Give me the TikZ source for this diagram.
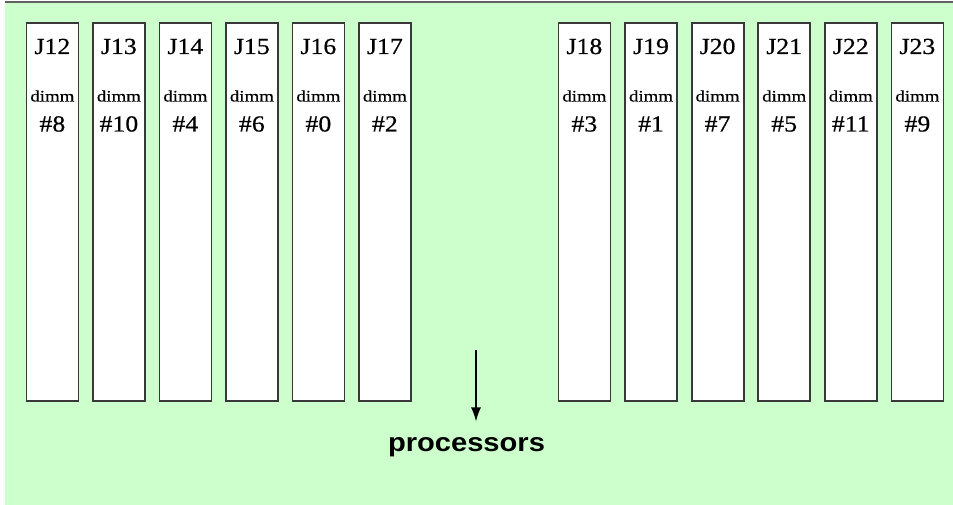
\documentclass[tikz,border=0pt]{standalone}
\usepackage{fontspec}
\usetikzlibrary{arrows.meta}
\newfontfamily\slotfont[FakeStretch=1.12,FakeBold=0.6]{Liberation Serif}
\newfontfamily\dimmfont[FakeStretch=1.18,FakeBold=0.3]{Liberation Serif}
\newfontfamily\procfont[FakeStretch=1.12]{Liberation Sans}
\definecolor{boardgreen}{HTML}{CCFFCC}
\definecolor{edgegray}{HTML}{383838}
\definecolor{rimgray}{HTML}{606060}
\begin{document}
\begin{tikzpicture}[x=1pt,y=-1pt,
  slot/.style={draw=edgegray, line width=1.8pt, fill=white, anchor=north west,
               minimum width=52pt, minimum height=377.5pt, inner sep=0pt},
  slotname/.style={font=\slotfont\fontsize{23}{23}\selectfont, anchor=base, inner sep=0pt},
  dimmtext/.style={font=\dimmfont\fontsize{16}{16}\selectfont, anchor=base, inner sep=0pt},
  slotnum/.style={font=\slotfont\fontsize{23}{23}\selectfont, anchor=base, inner sep=0pt},
  proclabel/.style={font=\procfont\bfseries\fontsize{26}{26}\selectfont, anchor=base, inner sep=0pt},
  flowarrow/.style={line width=1.4pt, -{Latex[length=14pt,width=10pt]}}]

  % page and board
  \useasboundingbox (0,0) rectangle (953,505);
  \fill[white] (0,0) rectangle (953,505);
  \fill[boardgreen] (5,3) rectangle (953,505);
  \draw[rimgray, line width=2pt] (5,2) -- (953,2);

  % memory slots with their dimm numbers
  \foreach \name/\num/\x in {J12/8/25.5, J13/10/92, J14/4/158.5, J15/6/225, J16/0/291.5, J17/2/358,
                              J18/3/557.5, J19/1/624.1, J20/7/690.7, J21/5/757.3, J22/11/823.9, J23/9/890.5}{
    \node[slot] (\name) at (\x,22.5) {};
    \node[slotname] (\name-label) at ([yshift=-31.5pt]\name.north) {\name};
    \node[dimmtext] (\name-dimm) at ([yshift=-79pt]\name.north) {dimm};
    \node[slotnum] (\name-num) at ([yshift=-109pt]\name.north) {\#\num};
  }

  % direction towards the processors
  \node[proclabel] (proc) at (466.5,451.7) {processors};
  \coordinate (arrowtail) at (476,350);
  \draw[flowarrow, shorten >=16pt] (arrowtail) -- (arrowtail |- proc.north);
\end{tikzpicture}
\end{document}
